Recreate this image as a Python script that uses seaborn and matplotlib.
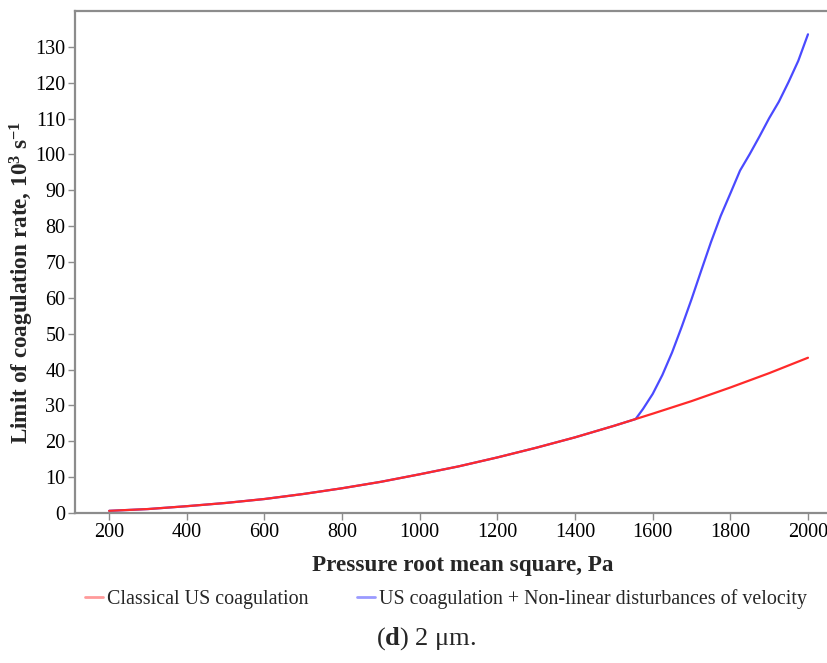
import matplotlib
matplotlib.use("Agg")
import matplotlib.pyplot as plt
from matplotlib.lines import Line2D
import numpy as np
import pandas as pd
import seaborn as sns

# Classical US coagulation: limit of coagulation rate (10^3 s^-1) vs pressure RMS (Pa)
classical_p = [200, 300, 400, 500, 600, 700, 800, 900, 1000, 1100, 1200,
               1300, 1400, 1500, 1556, 1600, 1700, 1800, 1900, 2000]
classical_rate = [0.6, 1.1, 1.9, 2.8, 3.9, 5.3, 6.9, 8.7, 10.8, 13.0, 15.5,
                  18.2, 21.1, 24.3, 26.2, 27.7, 31.2, 35.0, 39.0, 43.3]

# US coagulation + non-linear disturbances of velocity
nonlinear_p = [200, 300, 400, 500, 600, 700, 800, 900, 1000, 1100, 1200,
               1300, 1400, 1500, 1556, 1575, 1600, 1625, 1650, 1675, 1700,
               1725, 1750, 1775, 1800, 1825, 1850, 1875, 1900, 1925, 1950,
               1975, 2000]
nonlinear_rate = [0.6, 1.1, 1.9, 2.8, 3.9, 5.3, 6.9, 8.7, 10.8, 13.0, 15.5,
                  18.2, 21.1, 24.3, 26.2, 29.0, 33.2, 38.5, 44.8, 52.0, 59.6,
                  67.6, 75.5, 82.8, 89.1, 95.5, 100.1, 105.0, 110.1, 114.7,
                  120.2, 126.1, 133.5]

label_classical = "Classical US coagulation"
label_nonlinear = "US coagulation + Non-linear disturbances of velocity"

x_ticks = [200, 400, 600, 800, 1000, 1200, 1400, 1600, 1800, 2000]
y_ticks = list(range(0, 140, 10))

df = pd.concat([
    pd.DataFrame({"p": nonlinear_p, "rate": nonlinear_rate, "series": label_nonlinear}),
    pd.DataFrame({"p": classical_p, "rate": classical_rate, "series": label_classical}),
], ignore_index=True)

sns.set_style("white")
plt.rcParams["font.family"] = ["Liberation Serif", "DejaVu Serif"]
plt.rcParams["mathtext.fontset"] = "custom"
plt.rcParams["mathtext.rm"] = "Liberation Serif"
plt.rcParams["mathtext.bf"] = "Liberation Serif:bold"
plt.rcParams["mathtext.it"] = "Liberation Serif:italic"

fig = plt.figure(figsize=(8.27, 6.63), dpi=100)
ax = fig.add_axes([75 / 827, 1 - 513 / 663, 1 - 75 / 827, (513 - 11) / 663])

palette = {label_nonlinear: "#4a4aff", label_classical: "#ff2a2a"}
sns.lineplot(data=df, x="p", y="rate", hue="series", palette=palette,
             hue_order=[label_nonlinear, label_classical],
             linewidth=1.6, ax=ax, legend=False, sort=False)

ax.set_xlim(112, 2049)
ax.set_ylim(0, 140)
ax.set_xticks(x_ticks)
ax.set_yticks(y_ticks)

grey = "#8c8c8c"
for side in ["left", "bottom", "top"]:
    ax.spines[side].set_color(grey)
    ax.spines[side].set_linewidth(1.6)
ax.spines["right"].set_visible(False)
ax.tick_params(axis="both", which="major", direction="out", length=5, width=1,
               color=grey, labelsize=14.5, pad=2, labelcolor="black",
               left=True, bottom=True)

ax.set_xlabel("Pressure root mean square, Pa", fontsize=16.7, fontweight="bold")
ax.xaxis.set_label_coords((463 - 75) / 752, (513 - 555) / 502)
ax.set_ylabel(r"Limit of coagulation rate, 10$^{\mathbf{3}}$ s$^{\mathbf{-1}}$",
              fontsize=16.7, fontweight="bold")
ax.yaxis.set_label_coords((36 - 75) / 752, (513 - 282) / 502)

handles = [Line2D([0], [0], color="#ff9a9a", lw=2),
           Line2D([0], [0], color="#9a9aff", lw=2)]
fig.legend(handles, [label_classical, label_nonlinear], loc="center",
           bbox_to_anchor=(446 / 827, 1 - 599 / 663), ncol=2, frameon=False,
           fontsize=14.4, handlelength=0.9, handletextpad=0.2,
           columnspacing=2.4, borderpad=0, borderaxespad=0)

fig.text(426 / 827, 1 - 639 / 663, r"($\mathbf{d}$) 2 μm.", ha="center",
         va="center", fontsize=19)

fig.savefig("out.png", dpi=100, facecolor="white")
